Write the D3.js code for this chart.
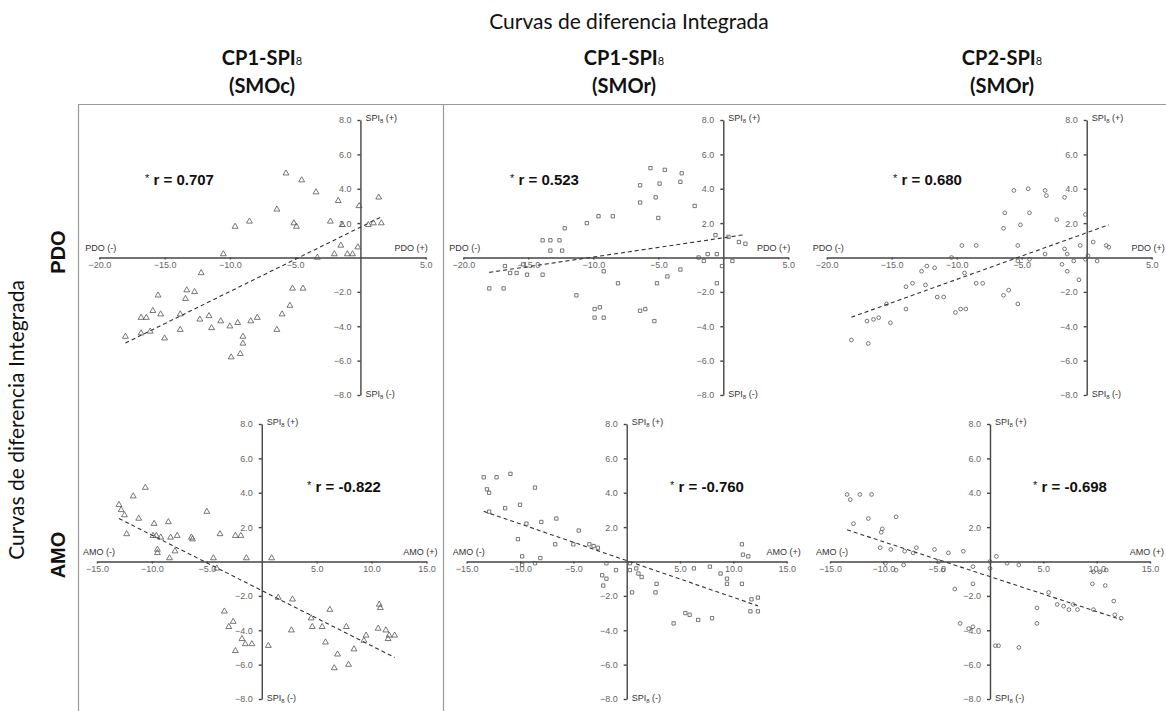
<!DOCTYPE html>
<html>
<head>
<meta charset="utf-8">
<script src="https://cdn.jsdelivr.net/npm/d3@7"></script>
<style>
  body { margin: 0; background: #fff; }
  svg { display: block; font-family: "Liberation Sans", Arial, sans-serif; }
  .axis path, .axis line { stroke: #444; stroke-width: 1.4px; }
  .axis text { fill: #666; font-size: 9px; }
  .end { fill: #333; font-size: 9px; }
  .head { font-family: Lato, "Open Sans", sans-serif; fill: #111; }
</style>
</head>
<body>
<svg id="chart" width="1166" height="711"></svg>
<script>
// values: [index, SPI8]
var pdoSMOc = [[-5.7,4.9],[-4.5,4.5],[-3.4,3.8],[-1.7,3.3],[1.4,3.5],[-0.1,3.0],[-6.4,2.8],[-8.5,2.1],[-9.6,1.8],[-5.1,2.0],[-4.9,1.8],[-2.3,2.1],[-1.4,1.9],[0.6,1.9],[1.0,2.0],[1.6,2.0],[-10.5,0.2],[-3.3,0.0],[-2.0,0.2],[-1.5,0.7],[-1.0,0.2],[-0.6,0.2],[-0.2,0.6],[-12.2,-0.9],[-5.2,-1.8],[-4.4,-1.8],[-15.5,-2.2],[-13.3,-1.9],[-12.7,-2.0],[-13.4,-2.4],[-5.4,-2.8],[-6.0,-3.3],[-16.8,-3.5],[-16.4,-3.5],[-15.9,-3.1],[-15.3,-3.3],[-13.8,-3.3],[-12.3,-3.6],[-11.6,-3.4],[-10.7,-3.7],[-11.4,-4.1],[-10.0,-4.0],[-9.4,-3.8],[-8.4,-3.7],[-7.9,-3.5],[-6.4,-4.2],[-18.0,-4.6],[-16.8,-4.4],[-16.1,-4.3],[-15.0,-4.7],[-13.8,-4.2],[-9.0,-4.6],[-9.0,-5.0],[-9.9,-5.8],[-9.2,-5.6]];

var pdoSMOr1 = [[-5.6,5.2],[-4.5,5.1],[-3.2,4.9],[-6.4,4.2],[-4.9,4.3],[-3.3,4.4],[-6.4,3.2],[-5.2,3.5],[-2.2,3.0],[-5.0,2.3],[-8.5,2.4],[-9.6,2.4],[-10.5,2.0],[-12.2,1.7],[-13.9,1.0],[-13.3,1.0],[-12.6,1.0],[-13.3,0.4],[-12.4,0.4],[-0.6,1.3],[0.4,1.2],[1.2,0.9],[1.7,0.8],[-1.9,0.0],[-1.5,-0.2],[-1.2,0.2],[-0.5,0.2],[0.7,-0.2],[-16.8,-0.5],[-16.4,-0.9],[-15.9,-0.9],[-15.4,-0.4],[-15.1,-1.0],[-13.9,-1.0],[-9.2,-0.8],[-18.0,-1.8],[-16.9,-1.8],[-8.1,-1.5],[-5.1,-1.5],[-4.3,-1.1],[-3.3,-0.7],[-0.1,-0.5],[-0.5,-1.5],[-11.3,-2.2],[-9.9,-3.0],[-9.9,-3.5],[-9.2,-3.5],[-6.4,-3.1],[-6.0,-3.0],[-5.3,-3.7],[-9.5,-2.9]];

var pdoSMOr2 = [[-5.6,3.9],[-4.5,4.0],[-3.2,3.9],[-3.1,3.6],[-1.7,3.5],[-6.3,2.6],[-4.4,2.6],[-6.4,1.7],[-5.1,1.9],[-2.3,2.2],[-0.1,2.5],[-9.6,0.7],[-8.5,0.7],[-5.3,0.7],[0.5,0.9],[1.5,0.7],[1.7,0.6],[-0.5,0.7],[-1.7,0.5],[-3.2,0.2],[-5.3,-0.2],[-4.4,-0.1],[-10.4,0.0],[-1.5,0.2],[-1.0,-0.2],[-0.1,-0.1],[0.1,0.1],[0.8,-0.2],[-1.9,-0.4],[-1.5,-0.8],[-0.6,-1.3],[-12.7,-0.8],[-12.3,-0.5],[-11.7,-0.6],[-13.9,-1.7],[-13.4,-1.5],[-12.4,-1.6],[-9.4,-0.9],[-8.5,-1.5],[-8.0,-1.5],[-11.5,-2.3],[-11.0,-2.3],[-6.4,-2.2],[-6.0,-1.9],[-5.3,-2.7],[-15.4,-2.7],[-13.9,-3.0],[-10.1,-3.2],[-9.7,-3.0],[-9.3,-3.0],[-16.9,-3.7],[-16.4,-3.6],[-16.0,-3.5],[-15.1,-3.8],[-18.1,-4.8],[-16.8,-5.0]];

var amoSMOc = [[-10.6,4.3],[-11.7,3.8],[-13.0,3.3],[-12.8,3.0],[-12.5,2.7],[-11.2,2.5],[-9.8,2.2],[-8.5,2.3],[-5.0,2.9],[-12.3,1.6],[-9.9,1.5],[-9.6,1.5],[-9.2,1.4],[-8.3,1.4],[-7.7,1.5],[-6.4,1.4],[-6.3,1.3],[-3.8,1.6],[-2.4,1.5],[-1.9,1.5],[-9.5,0.7],[-9.5,0.5],[-7.9,0.6],[-8.4,0.2],[-4.4,0.2],[-1.4,0.2],[0.9,0.2],[-4.1,-0.4],[1.5,-2.1],[2.8,-2.2],[6.2,-2.8],[10.7,-2.5],[10.8,-2.7],[-3.4,-2.9],[4.5,-3.3],[-2.6,-3.5],[-3.0,-3.8],[4.6,-3.8],[5.5,-3.8],[7.7,-3.8],[2.7,-4.0],[10.6,-3.9],[11.3,-4.0],[11.6,-4.3],[12.1,-4.3],[9.5,-4.3],[9.3,-4.6],[5.8,-4.7],[-1.8,-4.5],[-1.5,-4.8],[-0.9,-4.8],[-2.4,-5.2],[0.6,-4.9],[8.4,-5.1],[6.9,-5.4],[6.6,-6.2],[7.9,-6.0],[11.5,-4.5]];

var amoSMOr1 = [[-13.4,4.9],[-12.2,4.9],[-10.9,5.1],[-13.1,4.2],[-12.9,4.0],[-8.6,4.3],[-10.0,3.3],[-12.9,2.9],[-11.4,3.1],[-9.4,2.2],[-8.0,2.3],[-6.6,2.5],[-10.2,1.3],[-4.5,1.8],[-6.7,1.0],[-5.0,1.0],[-3.5,1.0],[-3.1,0.9],[-2.7,0.8],[-9.8,0.3],[-9.8,-0.2],[-8.6,-0.1],[-8.1,0.2],[-1.9,-0.1],[-1.0,-0.5],[-2.3,-0.8],[-1.9,-1.0],[-2.2,-1.4],[0.3,-0.1],[0.3,-0.5],[0.9,-0.4],[1.1,-0.7],[1.4,-0.9],[0.5,-1.8],[2.7,-1.8],[2.8,-1.3],[6.3,-0.4],[7.8,-0.3],[8.8,-0.7],[9.4,-1.0],[9.4,-1.3],[10.8,-1.3],[10.8,1.0],[10.9,0.4],[11.4,0.3],[11.7,-2.2],[12.3,-2.1],[11.6,-2.9],[12.3,-2.9],[4.4,-3.6],[5.5,-3.0],[5.9,-3.1],[6.7,-3.4],[8.0,-3.3]];

var amoSMOr2 = [[-13.4,3.9],[-13.1,3.6],[-12.2,3.9],[-11.1,3.9],[-11.4,2.5],[-8.8,2.6],[-12.8,2.2],[-10.1,1.9],[-10.2,1.7],[-10.3,0.8],[-9.3,0.7],[-8.0,0.6],[-6.9,0.8],[-7.2,0.5],[-5.2,0.7],[-3.9,0.5],[-2.5,0.6],[-9.8,-0.1],[-8.8,-0.5],[-8.1,-0.2],[-4.8,0.0],[-4.4,-0.5],[-3.3,-1.6],[-1.6,-1.3],[-1.6,-0.3],[0.0,0.0],[0.0,-0.4],[0.6,0.3],[1.6,-0.1],[2.7,-0.2],[4.4,-2.7],[4.4,-3.6],[5.5,-1.8],[6.3,-2.5],[6.9,-2.6],[7.4,-2.8],[7.8,-2.5],[8.2,-2.8],[9.6,-1.3],[10.8,-1.4],[9.7,-2.8],[11.6,-2.3],[11.7,-3.1],[12.3,-3.3],[10.3,-0.6],[10.9,-0.5],[9.7,-0.6],[-2.8,-3.6],[-2.0,-3.9],[-1.6,-3.8],[0.5,-4.9],[0.8,-4.9],[2.7,-5.0]];

var rValues = ["0.707", "0.523", "0.680", "-0.822", "-0.760", "-0.698"];
var pdoTicks = [-20, -15, -10, -5, 5],
    amoTicks = [-15, -10, -5, 5, 10, 15],
    spiTicks = [-8, -6, -4, -2, 2, 4, 6, 8];
var columnHeads = [["CP1-SPI", "(SMOc)"], ["CP1-SPI", "(SMOr)"], ["CP2-SPI", "(SMOr)"]];

var svg = d3.select("#chart");

// layout of the six panels
var panels = [
  {data: pdoSMOc,  sym: d3.symbolTriangle, name: "PDO", xd: [-20, 5], xr: [99.3, 425.7],  yr: [395, 120], rx: 145, ry: 185, padR: 2},
  {data: pdoSMOr1, sym: d3.symbolSquare,   name: "PDO", xd: [-20, 5], xr: [463.3, 788.3], yr: [395, 120], rx: 510, ry: 185, padR: 2},
  {data: pdoSMOr2, sym: d3.symbolCircle,   name: "PDO", xd: [-20, 5], xr: [826.7, 1151.7], yr: [395, 120], rx: 893, ry: 185, padR: 13},
  {data: amoSMOc,  sym: d3.symbolTriangle, name: "AMO", xd: [-15, 15], xr: [97, 426.5],    yr: [699, 424], rx: 307, ry: 492, padR: 11},
  {data: amoSMOr1, sym: d3.symbolSquare,   name: "AMO", xd: [-15, 15], xr: [466.7, 786.7], yr: [699, 424], rx: 670, ry: 492, padR: 14},
  {data: amoSMOr2, sym: d3.symbolCircle,   name: "AMO", xd: [-15, 15], xr: [830, 1150],    yr: [699, 424], rx: 1033, ry: 492, padR: 14}
];

// least squares trend line over the data range
function trend(pts) {
  var mx = d3.mean(pts, function(d) { return d[0]; }),
      my = d3.mean(pts, function(d) { return d[1]; });
  var b = d3.sum(pts, function(d) { return (d[0] - mx) * (d[1] - my); }) /
          d3.sum(pts, function(d) { return (d[0] - mx) * (d[0] - mx); });
  var a = my - b * mx;
  return d3.extent(pts, function(d) { return d[0]; }).map(function(x) { return [x, a + b * x]; });
}

// frame lines
svg.append("line").attr("x1", 78).attr("x2", 1166).attr("y1", 104.5).attr("y2", 104.5)
    .style("stroke", "#999").style("stroke-width", 1.2);
[78.5, 443.5].forEach(function(x) {
  svg.append("line").attr("x1", x).attr("x2", x).attr("y1", 104).attr("y2", 711)
      .style("stroke", "#999").style("stroke-width", 1.2);
});

panels.forEach(function(p, i) {
  var x = d3.scaleLinear().domain(p.xd).range(p.xr),
      y = d3.scaleLinear().domain([-8, 8]).range(p.yr);
  var g = svg.append("g");
  var x0 = x(0), y0 = y(0);

  g.append("g")
      .attr("class", "axis")
      .attr("transform", "translate(0," + y0 + ")")
      .call(d3.axisBottom(x).tickValues(p.name == "PDO" ? pdoTicks : amoTicks)
        .tickFormat(d3.format(".1f")).tickSize(2).tickSizeOuter(0).tickPadding(2));

  g.append("g")
      .attr("class", "axis")
      .attr("transform", "translate(" + x0 + ",0)")
      .call(d3.axisLeft(y).tickValues(spiTicks)
        .tickFormat(d3.format(".1f")).tickSize(3).tickSizeOuter(0).tickPadding(6));

  // dashed trend
  g.append("path")
      .datum(trend(p.data))
      .attr("d", d3.line().x(function(d) { return x(d[0]); }).y(function(d) { return y(d[1]); }))
      .style("fill", "none")
      .style("stroke", "#333")
      .style("stroke-width", 1.1)
      .style("stroke-dasharray", "4,3");

  g.selectAll(".pt")
      .data(p.data)
    .enter().append("path")
      .attr("class", "pt")
      .attr("transform", function(d) { return "translate(" + x(d[0]) + "," + y(d[1]) + ")"; })
      .attr("d", d3.symbol().type(p.sym).size(p.sym == d3.symbolTriangle ? 15 : 11))
      .style("fill", "none")
      .style("stroke", "#555")
      .style("stroke-width", 0.8);

  // axis end labels
  var top = g.append("text").attr("class", "end").attr("x", x0 + 5).attr("y", p.yr[1] + 1);
  top.append("tspan").text("SPI");
  top.append("tspan").attr("font-size", "6px").attr("dy", 2).text("8");
  top.append("tspan").attr("dy", -2).text(" (+)");
  var bot = g.append("text").attr("class", "end").attr("x", x0 + 5).attr("y", p.yr[0] + 2);
  bot.append("tspan").text("SPI");
  bot.append("tspan").attr("font-size", "6px").attr("dy", 2).text("8");
  bot.append("tspan").attr("dy", -2).text(" (-)");

  g.append("text").attr("class", "end")
      .attr("x", p.xr[0] - 14).attr("y", y0 - 7)
      .text(p.name + " (-)");
  g.append("text").attr("class", "end")
      .attr("x", p.xr[1] + p.padR).attr("y", y0 - 7)
      .attr("text-anchor", "end")
      .text(p.name + " (+)");

  // correlation label
  var r = g.append("text").attr("x", p.rx).attr("y", p.ry).style("fill", "#111");
  r.append("tspan").attr("font-size", "11px").attr("dy", -3).text("*");
  r.append("tspan").attr("font-size", "15px").attr("font-weight", "bold").attr("dy", 3).text(" r = " + rValues[i]);
});

// headings
svg.append("text").attr("class", "head")
    .attr("x", 629).attr("y", 29)
    .attr("text-anchor", "middle")
    .style("font-size", "21px")
    .text("Curvas de diferencia Integrada");

var colX = [262, 624, 1002];
columnHeads.forEach(function(h, i) {
  var t = svg.append("text").attr("class", "head")
      .attr("x", colX[i]).attr("y", 65)
      .attr("text-anchor", "middle")
      .style("font-size", "20px").style("font-weight", "bold");
  t.append("tspan").text(h[0]);
  t.append("tspan").attr("font-size", "11px").attr("font-weight", "normal").text("8");
  svg.append("text").attr("class", "head")
      .attr("x", colX[i]).attr("y", 93)
      .attr("text-anchor", "middle")
      .style("font-size", "20px").style("font-weight", "bold")
      .text(h[1]);
});

svg.append("text").attr("class", "head")
    .attr("transform", "translate(24,420) rotate(-90)")
    .attr("text-anchor", "middle")
    .style("font-size", "21px")
    .text("Curvas de diferencia Integrada");

[["PDO", 252], ["AMO", 555]].forEach(function(d) {
  svg.append("text")
      .attr("transform", "translate(65," + d[1] + ") rotate(-90)")
      .attr("text-anchor", "middle")
      .style("font-size", "20px").style("font-weight", "bold").style("fill", "#111")
      .text(d[0]);
});
</script>
</body>
</html>
